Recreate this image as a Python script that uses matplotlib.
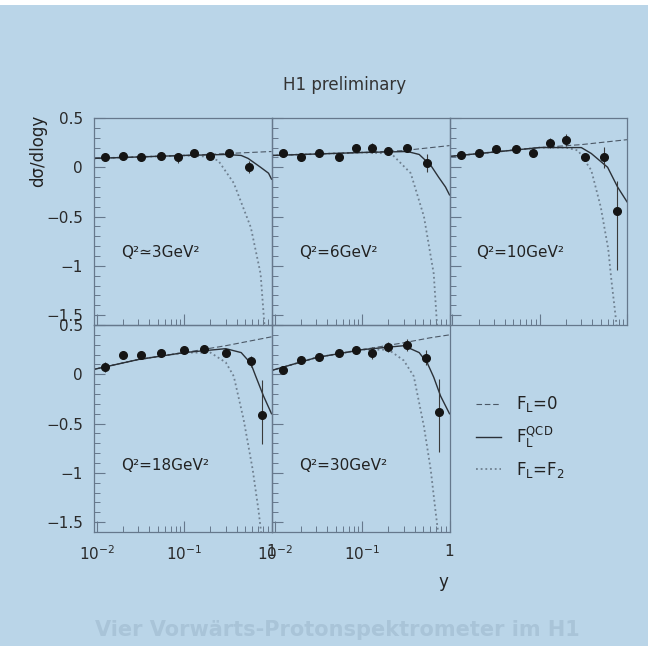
import matplotlib
matplotlib.use('Agg')
import matplotlib.pyplot as plt
from matplotlib.ticker import MultipleLocator, FixedLocator, LogLocator, NullFormatter
from matplotlib.lines import Line2D

# Q^2 bins
q2_labels = ['Q²≃3GeV²', 'Q²=6GeV²', 'Q²=10GeV²', 'Q²=18GeV²', 'Q²=30GeV²']

# data points (y, dsigma/dlogy, error) per bin
pts_x = [
    [0.0125, 0.02, 0.032, 0.054, 0.085, 0.13, 0.2, 0.33, 0.55],
    [0.0125, 0.02, 0.032, 0.054, 0.085, 0.13, 0.2, 0.33, 0.55],
    [0.0125, 0.02, 0.032, 0.054, 0.085, 0.13, 0.2, 0.33, 0.55, 0.76],
    [0.0125, 0.02, 0.032, 0.054, 0.1, 0.17, 0.3, 0.58, 0.77],
    [0.0125, 0.02, 0.032, 0.054, 0.085, 0.13, 0.2, 0.33, 0.54, 0.75],
]
pts_y = [
    [0.10, 0.11, 0.10, 0.11, 0.10, 0.14, 0.11, 0.14, 0.00],
    [0.15, 0.10, 0.14, 0.10, 0.20, 0.20, 0.17, 0.20, 0.04],
    [0.12, 0.14, 0.19, 0.19, 0.15, 0.25, 0.28, 0.10, 0.10, -0.44],
    [0.07, 0.20, 0.20, 0.22, 0.25, 0.26, 0.22, 0.13, -0.41],
    [0.04, 0.15, 0.18, 0.22, 0.25, 0.22, 0.28, 0.30, 0.17, -0.38],
]
err_lo = [
    [0.02, 0.02, 0.02, 0.02, 0.06, 0.03, 0.03, 0.03, 0.06],
    [0.02, 0.02, 0.02, 0.02, 0.03, 0.05, 0.03, 0.04, 0.09],
    [0.02, 0.02, 0.02, 0.02, 0.03, 0.05, 0.06, 0.04, 0.11, 0.60],
    [0.05, 0.02, 0.02, 0.02, 0.03, 0.04, 0.04, 0.06, 0.30],
    [0.04, 0.02, 0.02, 0.03, 0.03, 0.06, 0.05, 0.06, 0.08, 0.41],
]
err_hi = [
    [0.02, 0.02, 0.02, 0.02, 0.02, 0.03, 0.03, 0.03, 0.06],
    [0.02, 0.02, 0.02, 0.02, 0.03, 0.05, 0.03, 0.04, 0.09],
    [0.02, 0.02, 0.02, 0.02, 0.03, 0.05, 0.06, 0.04, 0.11, 0.30],
    [0.05, 0.02, 0.02, 0.02, 0.03, 0.04, 0.04, 0.06, 0.35],
    [0.04, 0.02, 0.02, 0.03, 0.03, 0.06, 0.05, 0.06, 0.08, 0.33],
]

# F_L = 0 curve
fl0_x = [
    [0.0093, 0.1, 1.0],
    [0.0093, 0.1, 0.3, 1.0],
    [0.0093, 0.1, 0.3, 1.0],
    [0.0093, 0.03, 0.1, 0.3, 1.0],
    [0.0093, 0.03, 0.1, 0.3, 0.6, 1.0],
]
fl0_y = [
    [0.09, 0.12, 0.16],
    [0.12, 0.15, 0.17, 0.22],
    [0.11, 0.20, 0.23, 0.28],
    [0.05, 0.15, 0.22, 0.29, 0.38],
    [0.04, 0.17, 0.25, 0.32, 0.37, 0.40],
]

# F_L QCD curve
qcd_x = [
    [0.0093, 0.1, 0.3, 0.45, 0.54, 0.75, 0.925, 1.0],
    [0.0093, 0.1, 0.33, 0.45, 0.61, 0.75, 0.9, 1.0],
    [0.0093, 0.1, 0.3, 0.39, 0.6, 0.78, 1.0],
    [0.0093, 0.03, 0.1, 0.3, 0.45, 0.58, 0.66, 0.81, 1.0],
    [0.0093, 0.03, 0.1, 0.3, 0.45, 0.56, 0.66, 0.79, 1.0],
]
qcd_y = [
    [0.09, 0.12, 0.13, 0.12, 0.09, 0.00, -0.06, -0.12],
    [0.12, 0.15, 0.16, 0.13, 0.02, -0.10, -0.20, -0.28],
    [0.11, 0.20, 0.20, 0.14, 0.00, -0.20, -0.35],
    [0.05, 0.15, 0.22, 0.26, 0.22, 0.11, -0.02, -0.22, -0.40],
    [0.04, 0.17, 0.25, 0.29, 0.22, 0.11, -0.03, -0.22, -0.40],
]

# F_L = F_2 curve
ff2_x = [
    [0.0093, 0.1, 0.17, 0.245, 0.37, 0.58, 0.75, 0.83],
    [0.0093, 0.1, 0.215, 0.36, 0.51, 0.66, 0.72],
    [0.0093, 0.1, 0.2, 0.276, 0.39, 0.5, 0.61, 0.66, 0.76],
    [0.0093, 0.03, 0.1, 0.2, 0.3, 0.37, 0.48, 0.61, 0.71, 0.76],
    [0.0093, 0.03, 0.1, 0.2, 0.3, 0.39, 0.51, 0.61, 0.69, 0.74],
]
ff2_y = [
    [0.09, 0.12, 0.11, 0.07, -0.16, -0.61, -1.08, -1.60],
    [0.12, 0.15, 0.14, -0.06, -0.50, -1.08, -1.60],
    [0.11, 0.20, 0.20, 0.17, -0.03, -0.40, -0.83, -1.13, -1.60],
    [0.05, 0.15, 0.22, 0.22, 0.12, -0.02, -0.46, -0.97, -1.38, -1.60],
    [0.04, 0.17, 0.25, 0.25, 0.14, -0.02, -0.53, -0.97, -1.38, -1.60],
]

x_ticks = [0.01, 0.1, 1.0]
x_tick_labels = ['$10^{-2}$', '$10^{-1}$', '1']
y_ticks = [-1.5, -1.0, -0.5, 0.0, 0.5]
y_tick_labels = ['\u22121.5', '\u22121', '\u22120.5', '0', '0.5']
legend_labels = [r'$\mathregular{F_L}$=0', r'$\mathregular{F_L^{QCD}}$',
                 r'$\mathregular{F_L}$=$\mathregular{F_2}$']

bg = '#bad5e8'
ink = '#151515'
frame = '#66788c'

plt.rcParams['font.family'] = ['DejaVu Sans']
plt.rcParams['mathtext.fontset'] = 'dejavusans'

W, H = 648, 646
col_left = [94, 272, 449.5]
row_top = [118, 325]
pw, ph = 177.5, 207

fig = plt.figure(figsize=(W / 100, H / 100), dpi=100, facecolor=bg)

# thin white page margin along the top of the scan
fig.patches.append(plt.Rectangle((0, 1 - 5 / H), 1, 5 / H, transform=fig.transFigure,
                                 facecolor='white', edgecolor='none'))


def rect(c, r):
    return [col_left[c] / W, 1 - (row_top[r] + ph) / H, pw / W, ph / H]


def style_axes(ax, c, r):
    ax.set_facecolor('none')
    ax.set_xscale('log')
    ax.set_xlim(0.0093, 1.0)
    ax.set_ylim(-1.6, 0.5)
    for sp in ax.spines.values():
        sp.set_color(frame)
        sp.set_linewidth(0.9)
    ax.xaxis.set_major_locator(FixedLocator(x_ticks))
    ax.xaxis.set_minor_locator(LogLocator(base=10, subs=range(2, 10)))
    ax.xaxis.set_minor_formatter(NullFormatter())
    ax.yaxis.set_major_locator(FixedLocator(y_ticks))
    ax.yaxis.set_minor_locator(MultipleLocator(0.1))
    ax.tick_params(which='both', direction='in', top=False, right=False,
                   color=frame, labelcolor='#2a2a2a', labelsize=11)
    ax.tick_params(which='major', length=8, width=0.8)
    ax.tick_params(which='minor', length=4, width=0.7)
    ax.tick_params(axis='y', pad=8)
    ax.tick_params(axis='x', pad=9)
    if c == 0:
        ax.set_yticklabels(y_tick_labels)
    else:
        ax.tick_params(labelleft=False)
    if r == 1:
        ax.set_xticklabels(x_tick_labels)
    else:
        ax.tick_params(labelbottom=False)


for i in range(5):
    c, r = i % 3, i // 3
    ax = fig.add_axes(rect(c, r))
    style_axes(ax, c, r)
    ax.plot(ff2_x[i], ff2_y[i], color='#6f8090', lw=1.3, linestyle=(0, (1, 1.6)))
    ax.plot(fl0_x[i], fl0_y[i], color='#4c5866', lw=0.8, linestyle=(0, (5, 2.5)))
    ax.plot(qcd_x[i], qcd_y[i], color='#2b3138', lw=1.0)
    ax.errorbar(pts_x[i], pts_y[i], yerr=[err_lo[i], err_hi[i]], fmt='o', ms=5.5,
                color=ink, ecolor='#3a3a3a', elinewidth=0.8, capsize=0, zorder=5)
    ax.text(0.15, 0.30 if r == 1 else 0.33, q2_labels[i], transform=ax.transAxes,
            fontsize=11, color='#222222')

# legend in the empty sixth cell
ax6 = fig.add_axes(rect(2, 1))
ax6.set_axis_off()
handles = [
    Line2D([], [], color='#4c5866', lw=0.8, linestyle=(0, (5, 2.5))),
    Line2D([], [], color='#2b3138', lw=1.0),
    Line2D([], [], color='#6f8090', lw=1.3, linestyle=(0, (1, 1.6))),
]
ax6.legend(handles, legend_labels, loc='upper left', bbox_to_anchor=(0.15, 0.665),
           frameon=False, fontsize=12, handlelength=1.5, handletextpad=0.9,
           labelspacing=0.6, borderpad=0, borderaxespad=0, labelcolor='#222222')

fig.text(345 / W, 1 - 85 / H, 'H1 preliminary', ha='center', va='center',
         fontsize=12, color='#333333')
fig.text(38 / W, 1 - 115 / H, 'd\u03c3/dlogy', rotation=90, ha='center', va='top',
         fontsize=12, color='#222222')
fig.text(443 / W, 1 - 582 / H, 'y', ha='center', va='center', fontsize=12, color='#222222')

# faint show-through of the printed page below the figure
fig.text(95 / W, 1 - 630 / H, 'Vier Vorwärts-Protonspektrometer im H1', ha='left',
         va='center', fontsize=15, fontweight='bold', color='#a9c4d8')

fig.savefig('out.png', dpi=100, facecolor=bg)
